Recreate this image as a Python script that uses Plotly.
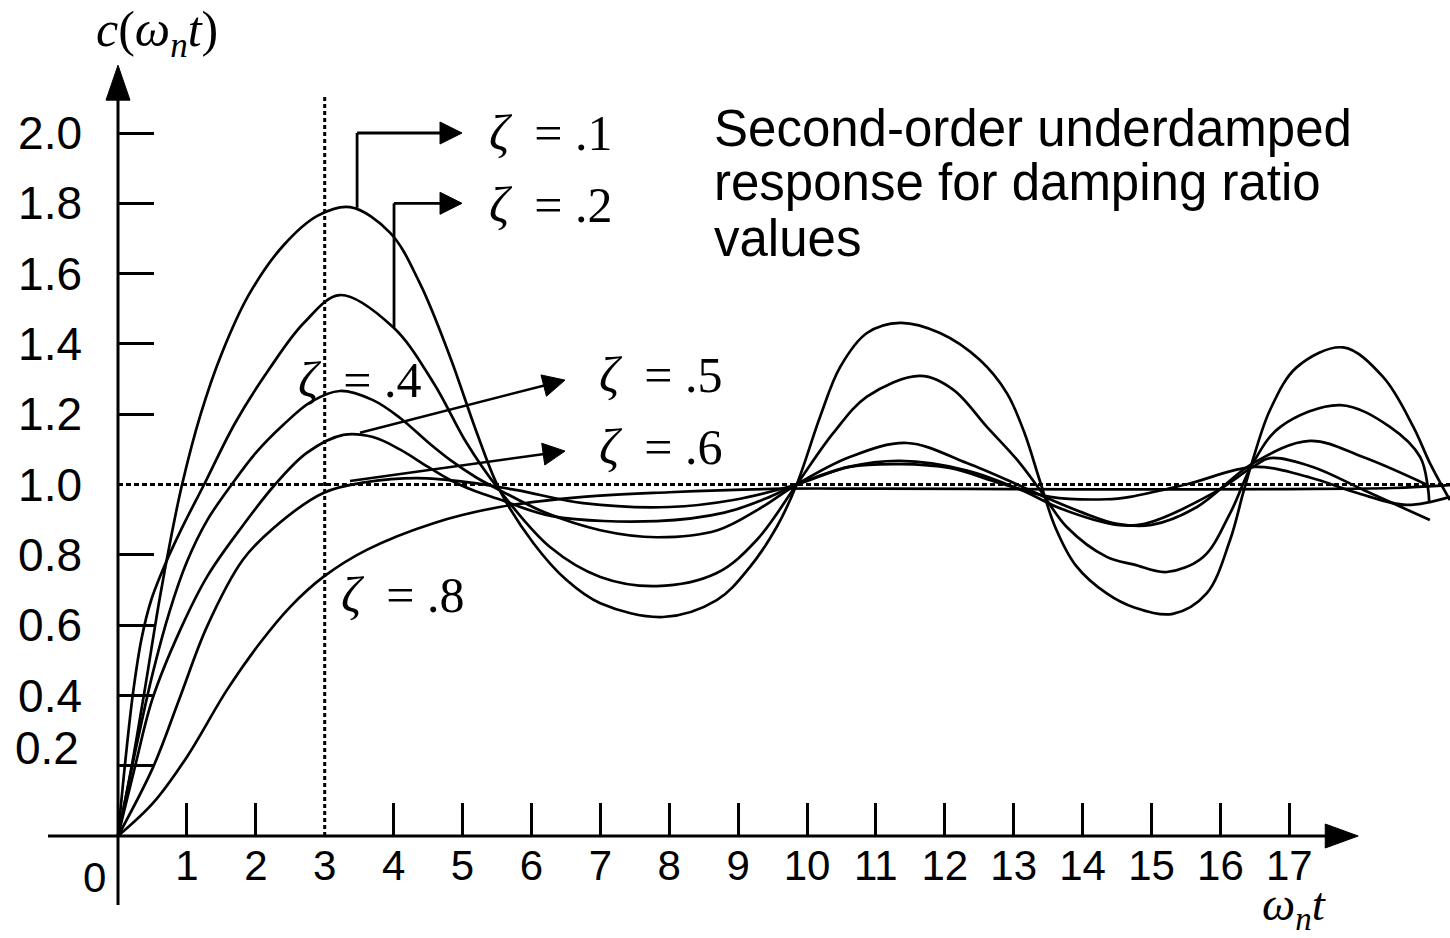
import math
import plotly.graph_objects as go

# ---------------------------------------------------------------- figure frame
W, H = 1450, 938
X_RANGE = [-1.7126, 19.332]   # omega_n * t
Y_RANGE = [-0.2902, 2.3784]   # c(omega_n t)
KX = W / (X_RANGE[1] - X_RANGE[0])   # pixels per x unit
KY = H / (Y_RANGE[1] - Y_RANGE[0])   # pixels per y unit

# ---------------------------------------------------------------- data
zeta_labels = ["\u03b6 = .1", "\u03b6 = .2", "\u03b6 = .4", "\u03b6 = .5", "\u03b6 = .6", "\u03b6 = .8"]

t_z1 = [0, 0.2, 0.4, 0.6, 0.77, 0.93, 1.2, 1.5, 1.9, 2.4, 2.9, 3.37, 3.95, 4.38, 4.82, 5.21,
        5.54, 6.03, 6.51, 7.0, 7.91, 8.69, 9.17, 9.56, 9.85, 10.19, 10.48, 10.87, 11.35, 11.93,
        12.51, 12.9, 13.15, 13.38, 13.6, 13.9, 14.35, 14.75, 15.31, 15.8, 16.14, 16.33, 16.47,
        16.72, 17.11, 17.78, 18.36, 18.8, 19.04, 19.33]
c_z1 = [0, 0.2, 0.43, 0.67, 0.85, 1.0, 1.2, 1.37, 1.54, 1.68, 1.765, 1.789, 1.716, 1.573, 1.363,
        1.146, 0.984, 0.833, 0.728, 0.662, 0.623, 0.671, 0.765, 0.879, 1.0, 1.193, 1.334, 1.431,
        1.46, 1.431, 1.354, 1.26, 1.15, 1.01, 0.88, 0.77, 0.69, 0.65, 0.632, 0.69, 0.842, 0.976,
        1.07, 1.212, 1.334, 1.39, 1.306, 1.164, 1.061, 0.956]

t_z2 = [0, 0.11, 0.22, 0.34, 0.48, 0.7, 0.95, 1.25, 1.7, 2.2, 2.7, 3.22, 3.99, 4.58, 5.06, 5.5,
        6.27, 7.0, 7.82, 8.69, 9.27, 9.85, 10.38, 10.87, 11.64, 12.12, 12.61, 13.05, 13.38, 13.77,
        14.35, 14.75, 15.22, 15.75, 16.14, 16.47, 16.87, 17.74, 18.46, 18.9, 19.01, 19.03]
c_z2 = [0, 0.22, 0.41, 0.56, 0.67, 0.78, 0.885, 1.0, 1.175, 1.33, 1.46, 1.539, 1.448, 1.289,
        1.118, 0.993, 0.822, 0.737, 0.711, 0.748, 0.842, 1.0, 1.146, 1.25, 1.309, 1.27, 1.164,
        1.07, 0.985, 0.879, 0.794, 0.772, 0.751, 0.794, 0.918, 1.06, 1.164, 1.226, 1.164, 1.078,
        0.993, 0.95]

t_z4 = [0, 0.25, 0.5, 0.75, 1.0, 1.3, 1.65, 2.0, 2.4, 2.8, 3.22, 3.7, 4.09, 4.5, 4.82, 5.2, 5.54,
        6.2, 7.0, 7.82, 8.7, 9.3, 9.85, 10.62, 11.45, 12.32, 13.05, 13.5, 14.0, 14.5, 15.0, 15.66,
        16.47, 17.3, 18.07, 19.01]
c_z4 = [0, 0.24, 0.46, 0.64, 0.78, 0.9, 1.0, 1.09, 1.17, 1.235, 1.266, 1.24, 1.19, 1.12, 1.07,
        1.02, 0.984, 0.92, 0.87, 0.85, 0.87, 0.93, 1.0, 1.078, 1.118, 1.061, 1.0, 0.96, 0.92,
        0.888, 0.885, 0.936, 1.06, 1.124, 1.078, 0.998]

t_z5 = [0, 0.25, 0.5, 0.9, 1.3, 1.8, 2.28, 2.74, 3.27, 3.7, 4.09, 4.5, 4.82, 5.2, 5.5, 6.3, 7.82,
        8.8, 9.4, 9.85, 10.6, 11.35, 12.32, 13.1, 13.7, 14.5, 14.9, 15.9, 16.47, 16.72, 17.34,
        18.07, 19.04]
c_z5 = [0, 0.2, 0.39, 0.585, 0.74, 0.88, 1.0, 1.09, 1.141, 1.135, 1.1, 1.05, 1.013, 0.98, 0.96,
        0.91, 0.896, 0.92, 0.96, 1.0, 1.05, 1.067, 1.04, 0.985, 0.93, 0.885, 0.888, 0.976, 1.05,
        1.075, 1.05, 0.985, 0.899]

t_z6 = [0, 0.51, 0.9, 1.29, 1.81, 2.25, 2.98, 3.61, 4.34, 5.06, 5.79, 6.75, 8.0, 8.93, 9.85,
        10.62, 11.35, 12.07, 12.8, 13.53, 14.35, 14.69, 15.5, 16.5, 17.3, 18.0, 18.7, 19.33]
c_z6 = [0, 0.196, 0.395, 0.595, 0.785, 0.875, 0.976, 1.007, 1.018, 1.007, 0.984, 0.947, 0.936,
        0.956, 1.0, 1.05, 1.058, 1.047, 1.004, 0.965, 0.958, 0.965, 1.0, 1.05, 1.02, 0.975,
        0.942, 0.965]

t_z8 = [0, 0.51, 1.0, 1.58, 2.06, 2.5, 2.98, 3.61, 4.58, 5.54, 6.75, 8.0, 9.65, 11.0, 13.0, 15.0,
        17.0, 18.5, 19.33]
c_z8 = [0, 0.094, 0.225, 0.415, 0.549, 0.652, 0.737, 0.814, 0.89, 0.936, 0.965, 0.978, 0.988,
        0.988, 0.987, 0.986, 0.987, 0.99, 0.998]

x_ticks = list(range(1, 18))
y_ticks = [0.2, 0.4, 0.6, 0.8, 1.0, 1.2, 1.4, 1.6, 1.8, 2.0]

# ---------------------------------------------------------------- styles
INK = "black"
SANS = "Liberation Sans, Arial, sans-serif"
SERIF = "Liberation Serif, Times New Roman, serif"
CURVE_W = 2.7
AXIS_W = 3

fig = go.Figure()

for t, c in [(t_z1, c_z1), (t_z2, c_z2), (t_z4, c_z4), (t_z5, c_z5), (t_z6, c_z6), (t_z8, c_z8)]:
    fig.add_trace(go.Scatter(x=t, y=c, mode="lines",
                             line=dict(color=INK, width=CURVE_W, shape="spline", smoothing=1.0),
                             hoverinfo="skip", showlegend=False))

# carrier trace for the label-only axes
fig.add_trace(go.Scatter(x=[None], y=[None], xaxis="x2", yaxis="y2",
                         showlegend=False, hoverinfo="skip"))

shapes = []
annotations = []


def seg(x0, y0, x1, y1, width=AXIS_W, dash=None):
    shapes.append(dict(type="line", xref="x", yref="y", x0=x0, y0=y0, x1=x1, y1=y1,
                       line=dict(color=INK, width=width, dash=dash)))


def arrow(tail, tip, length, width, line_w=AXIS_W):
    """Straight line from tail to tip finished by a filled triangular head."""
    dx = (tip[0] - tail[0]) * KX
    dy = (tip[1] - tail[1]) * KY
    n = math.hypot(dx, dy)
    ux, uy = dx / n, dy / n
    bx, by = -ux * length, -uy * length
    nx, ny = -uy * width / 2, ux * width / 2
    path = (f"M0,0 L{bx + nx:.2f},{by + ny:.2f} "
            f"L{bx - nx:.2f},{by - ny:.2f} Z")
    stop = (tip[0] - ux * length * 0.7 / KX, tip[1] - uy * length * 0.7 / KY)
    seg(tail[0], tail[1], stop[0], stop[1], width=line_w)
    shapes.append(dict(type="path", xref="x", yref="y",
                       xsizemode="pixel", ysizemode="pixel",
                       xanchor=tip[0], yanchor=tip[1], path=path,
                       fillcolor=INK, line=dict(color=INK, width=1)))


# axes with arrow heads
arrow((-1.016, 0), (18.0, 0), 33, 24)
arrow((0, -0.196), (0, 2.193), 35, 24)

# reference lines: c = 1 and omega_n t = 3
seg(0, 1.0, X_RANGE[1], 1.0, width=3, dash="5px,3px")
seg(3, 0, 3, 2.108, width=3, dash="4px,3px")

# leaders to the damping-ratio labels
seg(3.47, 1.787, 3.47, 2.0, width=2.8)
arrow((3.47, 2.0), (4.993, 2.0), 22, 22, line_w=2.8)
seg(4.006, 1.446, 4.006, 1.8, width=2.8)
arrow((4.006, 1.8), (4.993, 1.8), 22, 22, line_w=2.8)
arrow((3.512, 1.147), (6.488, 1.297), 22, 22, line_w=2.6)
arrow((3.367, 1.01), (6.488, 1.095), 22, 22, line_w=2.6)


def text(x, y, s, size, family=SANS, xanchor="left", yanchor="middle", yref="y"):
    annotations.append(dict(x=x, y=y, xref="x", yref=yref, text=s, showarrow=False,
                            xanchor=xanchor, yanchor=yanchor, borderpad=0,
                            font=dict(family=family, size=size, color=INK)))


def zeta_text(x, y, label):
    sym, rest = label.split(" ", 1)
    text(x, y, f"<i>{sym}</i>\u2002{rest}", 50, family=SERIF)


for (x, y), lab in zip([(5.37, 2.0), (5.37, 1.795), (2.598, 1.297),
                        (6.967, 1.3115), (6.967, 1.1067), (3.222, 0.6856)], zeta_labels):
    zeta_text(x, y, lab)

# caption
for y, line in zip([2.0142, 1.8578, 1.7013],
                   ["Second-order underdamped", "response for damping ratio", "values"]):
    text(8.636, y, line, 51)

# axis titles and origin
text(0.566, 1.0, "<i>c</i>(<i>\u03c9<sub>n</sub>t</i>)", 50, family=SERIF,
     xanchor="center", yanchor="top", yref="paper")
text(17.07, 0.0, "<i>\u03c9<sub>n</sub>t</i>", 47, family=SERIF,
     xanchor="center", yanchor="bottom", yref="paper")
text(-0.334, -0.119, "0", 42, xanchor="center")
text(-0.552, 0.25, "0.2", 46, xanchor="right")

axis_common = dict(range=X_RANGE, showgrid=False, zeroline=False, showline=False,
                   anchor="free", position=(0 - Y_RANGE[0]) / (Y_RANGE[1] - Y_RANGE[0]),
                   fixedrange=True)
yaxis_common = dict(range=Y_RANGE, showgrid=False, zeroline=False, showline=False,
                    anchor="free", position=(0 - X_RANGE[0]) / (X_RANGE[1] - X_RANGE[0]),
                    fixedrange=True)

fig.update_layout(
    width=W, height=H,
    margin=dict(l=0, r=0, t=0, b=0, pad=0),
    paper_bgcolor="white", plot_bgcolor="white",
    showlegend=False, hovermode=False,
    xaxis=dict(**axis_common, ticks="inside", ticklen=33, tickwidth=2.5, tickcolor=INK,
               tickvals=[v for v in x_ticks if v != 3], showticklabels=False),
    xaxis2=dict(**axis_common, overlaying="x", ticks="",
                tickvals=x_ticks, ticktext=[str(v) for v in x_ticks],
                tickfont=dict(family=SANS, size=42, color=INK), ticklabelstandoff=1),
    yaxis=dict(**yaxis_common, ticks="inside", ticklen=35, tickwidth=2.5, tickcolor=INK,
               tickvals=[v for v in y_ticks if v != 1.0], showticklabels=False),
    yaxis2=dict(**yaxis_common, overlaying="y", ticks="",
                tickvals=[v for v in y_ticks if v != 0.2],
                ticktext=[f"{v:.1f}" for v in y_ticks if v != 0.2],
                tickfont=dict(family=SANS, size=46, color=INK), ticklabelstandoff=36),
    shapes=shapes,
    annotations=annotations,
)

fig.write_html("out.html")
